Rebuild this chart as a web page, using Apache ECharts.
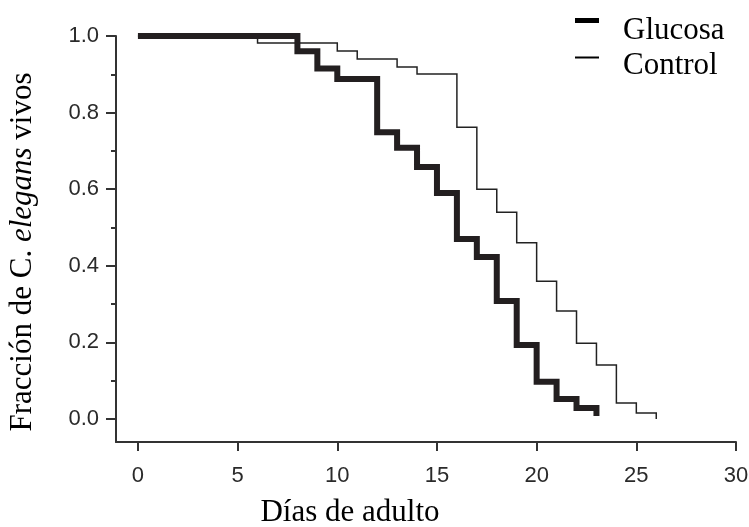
<!DOCTYPE html>
<html>
<head>
<meta charset="utf-8">
<title>Supervivencia</title>
<script src="https://cdn.jsdelivr.net/npm/echarts@6/dist/echarts.min.js"></script>
<style>
    html, body { margin: 0; padding: 0; background: #fff; }
    #main { width: 749px; height: 527px; }
</style>
</head>
<body>
<div id="main"></div>
<script>
// datos
var glucosaDias = [0, 8, 9, 10, 12, 13, 14, 15, 16, 17, 18, 19, 20, 21, 22, 23];
var glucosaVivos = [1.0, 0.96, 0.915, 0.888, 0.749, 0.708, 0.658, 0.59, 0.47, 0.423, 0.308, 0.193, 0.097, 0.052, 0.029, 0.008];
var controlDias = [0, 6, 10, 11, 13, 14, 16, 17, 18, 19, 20, 21, 22, 23, 24, 25, 26];
var controlVivos = [1.0, 0.982, 0.961, 0.94, 0.919, 0.901, 0.762, 0.60, 0.54, 0.46, 0.36, 0.282, 0.198, 0.141, 0.042, 0.016, 0.0];
var xTicks = [0, 5, 10, 15, 20, 25, 30];
var yTicks = [0, 0.2, 0.4, 0.6, 0.8, 1.0];
var yMinorTicks = [0.1, 0.3, 0.5, 0.7, 0.9];

var serif = '"Liberation Serif", "Times New Roman", serif';
var sans = '"Liberation Sans", Arial, sans-serif';

function pares(xs, ys) {
    var out = [];
    for (var i = 0; i < xs.length; i++) {
        out.push([xs[i], ys[i]]);
    }
    return out;
}

// leyenda: una por serie, la linea queda arriba del texto
function leyenda(nombre, grosor, top, padTop) {
    return {
        data: [{ name: nombre, icon: 'rect' }],
        left: 575,
        top: top,
        padding: 0,
        itemWidth: 24,
        itemHeight: grosor,
        selectedMode: false,
        itemStyle: { color: '#000' },
        formatter: '{t|{name}}',
        textStyle: {
            color: '#000',
            rich: {
                t: { fontFamily: serif, fontSize: 31, color: '#000', padding: [padTop, 0, 0, 19] }
            }
        }
    };
}

var myChart = echarts.init(document.getElementById('main'));

var option = {
    backgroundColor: '#fff',
    animation: false,
    grid: {
        left: 116,
        right: 13,
        top: 36,
        bottom: 85,
        containLabel: false,
        outerBoundsMode: 'none'
    },
    legend: [
        leyenda('Glucosa', 5, 15, 20),
        leyenda('Control', 2, 50, 16)
    ],
    xAxis: {
        type: 'value',
        min: -1.1,
        max: 30,
        splitLine: { show: false },
        axisLine: { show: true, onZero: false, lineStyle: { color: '#333', width: 2 } },
        axisTick: { show: true, customValues: xTicks, length: 9, lineStyle: { color: '#333', width: 2 } },
        axisLabel: {
            customValues: xTicks,
            margin: 23,
            fontFamily: sans,
            fontSize: 22,
            color: '#2a2a2a'
        }
    },
    yAxis: [{
        type: 'value',
        position: 'left',
        min: -0.06,
        max: 1.0,
        splitLine: { show: false },
        axisLine: { show: true, onZero: false, lineStyle: { color: '#333', width: 2 } },
        axisTick: { show: true, customValues: yTicks, length: 10, lineStyle: { color: '#333', width: 2 } },
        axisLabel: {
            customValues: yTicks,
            margin: 17,
            fontFamily: sans,
            fontSize: 22,
            color: '#2a2a2a',
            formatter: function (v) { return v.toFixed(1); }
        }
    }, {
        // ticks menores
        type: 'value',
        position: 'left',
        min: -0.06,
        max: 1.0,
        splitLine: { show: false },
        axisLine: { show: false, onZero: false },
        axisTick: { show: true, customValues: yMinorTicks, length: 5, lineStyle: { color: '#333', width: 2 } },
        axisLabel: { show: false }
    }],
    series: [{
        name: 'Control',
        type: 'line',
        step: 'end',
        symbol: 'none',
        color: '#222',
        lineStyle: { width: 1.5, color: '#222', join: 'miter', cap: 'butt' },
        data: pares(controlDias, controlVivos)
    }, {
        name: 'Glucosa',
        type: 'line',
        step: 'end',
        symbol: 'none',
        color: '#231f20',
        lineStyle: { width: 6, color: '#231f20', join: 'miter', cap: 'butt' },
        data: pares(glucosaDias, glucosaVivos)
    }],
    graphic: [{
        type: 'text',
        x: 23,
        y: 252,
        rotation: Math.PI / 2,
        style: {
            text: '{n|Fracción de C. }{i|elegans}{n| vivos}',
            align: 'center',
            verticalAlign: 'middle',
            fill: '#000',
            rich: {
                n: { fontFamily: serif, fontSize: 31, fill: '#000' },
                i: { fontFamily: serif, fontSize: 31, fontStyle: 'italic', fill: '#000' }
            }
        }
    }, {
        type: 'text',
        x: 350,
        y: 513,
        style: {
            text: 'Días de adulto',
            align: 'center',
            verticalAlign: 'middle',
            fill: '#000',
            font: '31px ' + serif
        }
    }]
};

myChart.setOption(option);
</script>
</body>
</html>
